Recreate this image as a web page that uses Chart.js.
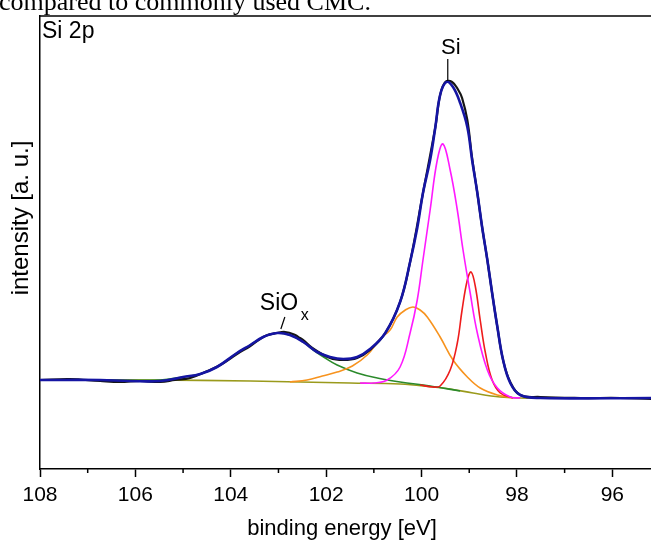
<!DOCTYPE html>
<html>
<head>
<meta charset="utf-8">
<script src="https://cdn.jsdelivr.net/npm/chart.js@4"></script>
<style>
  html, body { margin: 0; padding: 0; background: #fff; overflow: hidden; }
  #wrap { width: 660px; height: 544px; position: relative; }
</style>
</head>
<body>
<div id="wrap"><canvas id="xpsChart"></canvas></div>
<script>
// Si 2p spectrum (binding energy in eV, intensity a.u.)
var xTicks = [108, 106, 104, 102, 100, 98, 96];

var dataX = [108.0, 107.37, 106.74, 106.32, 105.90, 105.48, 105.17, 104.85, 104.54, 104.22, 103.87, 103.59, 103.28, 103.03, 102.86, 102.65, 102.55, 102.48, 102.29, 101.92, 101.64, 101.35, 101.08, 100.76, 100.45, 100.24, 99.97, 99.71, 99.61, 99.50, 99.36, 99.23, 99.15, 99.04, 98.94, 98.83, 98.73, 98.62, 98.52, 98.41, 98.29, 98.14, 97.93, 97.51, 96.67, 95.83, 95.18, 94.8];
var dataY = [89, 90, 88, 87, 88, 87, 89, 91, 97, 104, 115, 123, 133, 136, 137, 134, 131, 129, 121, 111, 109, 111, 119, 136, 167, 207, 276, 342, 374, 387, 387, 379, 371, 349, 311, 276, 242, 209, 176, 142, 109, 87, 74, 72, 71, 71, 70, 70];

var envX = [108.0, 106.74, 106.11, 105.48, 105.0, 104.64, 104.29, 103.87, 103.59, 103.32, 103.03, 102.76, 102.48, 102.19, 101.92, 101.64, 101.35, 101.08, 100.76, 100.45, 100.24, 100.09, 99.97, 99.82, 99.71, 99.61, 99.48, 99.34, 99.19, 99.04, 98.94, 98.83, 98.73, 98.62, 98.52, 98.41, 98.29, 98.14, 97.93, 97.51, 95.18, 94.8];
var envY = [89, 89, 88, 88, 92, 95, 102, 116, 124, 132, 136, 134, 127, 117, 112, 110, 112, 120, 136, 167, 207, 241, 276, 309, 342, 374, 387, 382, 366, 342, 309, 276, 242, 209, 176, 142, 109, 86, 74, 71, 71, 71];

var siX = [101.29, 101.01, 100.72, 100.45, 100.24, 100.09, 99.97, 99.82, 99.67, 99.55, 99.40, 99.25, 99.13, 98.98, 98.83, 98.62, 98.41, 98.14, 97.93];
var siY = [86, 86, 89, 102, 136, 169, 209, 259, 309, 325, 299, 259, 219, 176, 136, 99, 81, 72, 71];

var si2X = [100.03, 99.76, 99.61, 99.40, 99.25, 99.15, 99.04, 98.96, 98.87, 98.77, 98.66, 98.52, 98.35, 98.08];
var si2Y = [84, 82, 83, 99, 126, 159, 189, 197, 182, 149, 116, 89, 76, 71];

var subX = [102.76, 102.40, 102.08, 101.77, 101.45, 101.14, 100.87, 100.66, 100.51, 100.34, 100.18, 100.03, 99.88, 99.61, 99.34, 99.04, 98.77, 98.41, 98.08];
var subY = [87, 89, 93, 97, 103, 114, 130, 139, 152, 159, 162, 159, 152, 132, 109, 92, 81, 74, 71];

var oxX = [108.0, 106.74, 105.48, 105.0, 104.64, 104.29, 103.87, 103.59, 103.32, 103.03, 102.76, 102.48, 102.27, 102.02, 101.77, 101.35, 100.93, 100.45, 99.82, 99.19];
var oxY = [89, 89, 89, 92, 95, 102, 116, 124, 132, 136, 134, 127, 119, 111, 104, 96, 91, 87, 83, 78];

var bgX = [108.0, 105.69, 103.59, 101.5, 100.45, 99.76, 99.40, 98.92, 98.35, 97.93, 97.51, 94.8];
var bgY = [89, 89, 88, 86, 85, 82, 80, 76, 72, 71, 71, 71];

function pts(xs, ys) {
  return xs.map(function (x, i) { return { x: x, y: ys[i] }; });
}

function line(data, color, width, order) {
  return {
    data: data,
    borderColor: color,
    borderWidth: width,
    pointRadius: 0,
    fill: false,
    tension: 0.4,
    order: order
  };
}

var FONT = "'Liberation Sans', Arial, sans-serif";

// frame top, minor ticks, titles and peak labels
var extras = {
  id: 'extras',
  afterDraw: function (chart) {
    var ctx = chart.ctx;
    var a = chart.chartArea;
    var xs = chart.scales.x;
    var ys = chart.scales.y;
    ctx.save();
    ctx.strokeStyle = '#000';
    ctx.lineWidth = 1.5;
    ctx.beginPath();
    ctx.moveTo(a.left, a.top);
    ctx.lineTo(a.right, a.top);
    ctx.stroke();

    // minor ticks
    for (var v = 107; v >= 95; v -= 2) {
      var px = xs.getPixelForValue(v);
      ctx.beginPath();
      ctx.moveTo(px, a.bottom);
      ctx.lineTo(px, a.bottom + 4);
      ctx.stroke();
    }

    ctx.fillStyle = '#000';
    ctx.textBaseline = 'alphabetic';

    // caption line cut off above the figure
    ctx.font = "26px 'Liberation Serif', 'Times New Roman', serif";
    ctx.textAlign = 'left';
    ctx.fillText('compared to commonly used CMC.', -1, 10);

    ctx.font = '23px ' + FONT;
    ctx.fillText('Si 2p', 42, 38);

    ctx.font = '22px ' + FONT;
    ctx.textAlign = 'center';
    ctx.fillText('binding energy [eV]', 342, 535);

    ctx.save();
    ctx.font = '24px ' + FONT;
    ctx.translate(28, 218);
    ctx.rotate(-Math.PI / 2);
    ctx.fillText('intensity [a. u.]', 0, 0);
    ctx.restore();

    // Si label
    ctx.font = '22px ' + FONT;
    var sx = xs.getPixelForValue(99.45);
    var sy = ys.getPixelForValue(387);
    ctx.fillText('Si', sx + 3, sy - 28);
    ctx.lineWidth = 1.2;
    ctx.beginPath();
    ctx.moveTo(sx, sy - 23);
    ctx.lineTo(sx, sy - 1);
    ctx.stroke();

    // SiOx label
    var ox = xs.getPixelForValue(102.95);
    var oy = ys.getPixelForValue(137);
    ctx.textAlign = 'left';
    ctx.font = '23px ' + FONT;
    ctx.fillText('SiO', ox - 21, oy - 22);
    ctx.font = '16px ' + FONT;
    ctx.fillText('x', ox + 20, oy - 12);
    ctx.beginPath();
    ctx.moveTo(ox + 4, oy - 15);
    ctx.lineTo(ox, oy - 3);
    ctx.stroke();
    ctx.restore();
  }
};

var chart = new Chart(document.getElementById('xpsChart'), {
  type: 'line',
  data: {
    datasets: [
      line(pts(envX, envY), '#1515a3', 2.6, 0),
      line(pts(dataX, dataY), '#151515', 2.2, 1),
      line(pts(siX, siY), '#ff19ff', 1.6, 2),
      line(pts(si2X, si2Y), '#ee1c1c', 1.6, 3),
      line(pts(subX, subY), '#f7931e', 1.6, 4),
      line(pts(oxX, oxY), '#2b8a2b', 1.6, 5),
      line(pts(bgX, bgY), '#9a9a1c', 1.6, 6)
    ]
  },
  options: {
    responsive: true,
    maintainAspectRatio: false,
    animation: false,
    layout: { padding: { top: 16, left: 0, right: 0, bottom: 0 } },
    plugins: {
      legend: { display: false },
      tooltip: { enabled: false }
    },
    scales: {
      x: {
        type: 'linear',
        reverse: true,
        min: 95,
        max: 108,
        afterFit: function (s) { s.height = 75; },
        afterBuildTicks: function (s) {
          s.ticks = xTicks.map(function (v) { return { value: v }; });
        },
        grid: {
          drawOnChartArea: false,
          drawTicks: true,
          tickLength: 8,
          tickColor: '#000',
          tickWidth: 1.5
        },
        border: { display: true, color: '#000', width: 1.5 },
        ticks: {
          color: '#000',
          padding: 6,
          maxRotation: 0,
          autoSkip: false,
          font: { family: FONT, size: 21 }
        }
      },
      y: {
        min: 0,
        max: 453,
        afterFit: function (s) { s.width = 40; },
        grid: { drawOnChartArea: false, drawTicks: false },
        border: { display: true, color: '#000', width: 1.5 },
        ticks: { display: false }
      }
    }
  },
  plugins: [extras]
});
</script>
</body>
</html>
